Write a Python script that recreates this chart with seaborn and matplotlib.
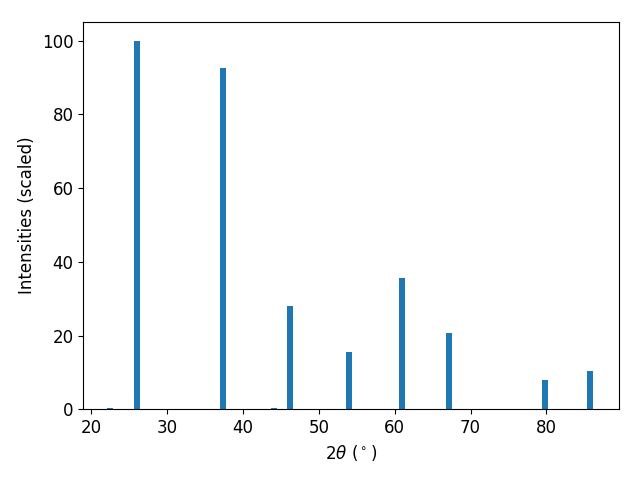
import matplotlib
matplotlib.use("Agg")
import matplotlib.pyplot as plt
import seaborn as sns
import numpy as np
import pandas as pd

two_theta = [22.5, 26.1, 37.4, 44.1, 46.2, 53.95, 60.95, 67.15, 79.8, 85.7]
intensity = [0.3, 100.0, 92.7, 0.3, 28.1, 15.6, 35.7, 20.8, 8.1, 10.4]

plt.rcParams['font.size'] = 12
fig, ax = plt.subplots(figsize=(6.4, 4.8), dpi=100)
df = pd.DataFrame({"x": two_theta, "y": intensity})
min_gap = np.min(np.diff(np.sort(two_theta)))
sns.barplot(data=df, x="x", y="y", native_scale=True, width=0.8 / min_gap,
            color="#1f77b4", saturation=1, ax=ax, errorbar=None)
ax.set_xlim(18.95, 89.6)
ax.set_ylim(0, 105.15)
ax.set_xticks([20, 30, 40, 50, 60, 70, 80])
ax.set_xlabel(r"$2\theta$ ($^\circ$)")
ax.set_ylabel("Intensities (scaled)")
fig.subplots_adjust(left=0.130, right=0.9677, top=0.955, bottom=0.147)
fig.savefig("out.png", dpi=100)
